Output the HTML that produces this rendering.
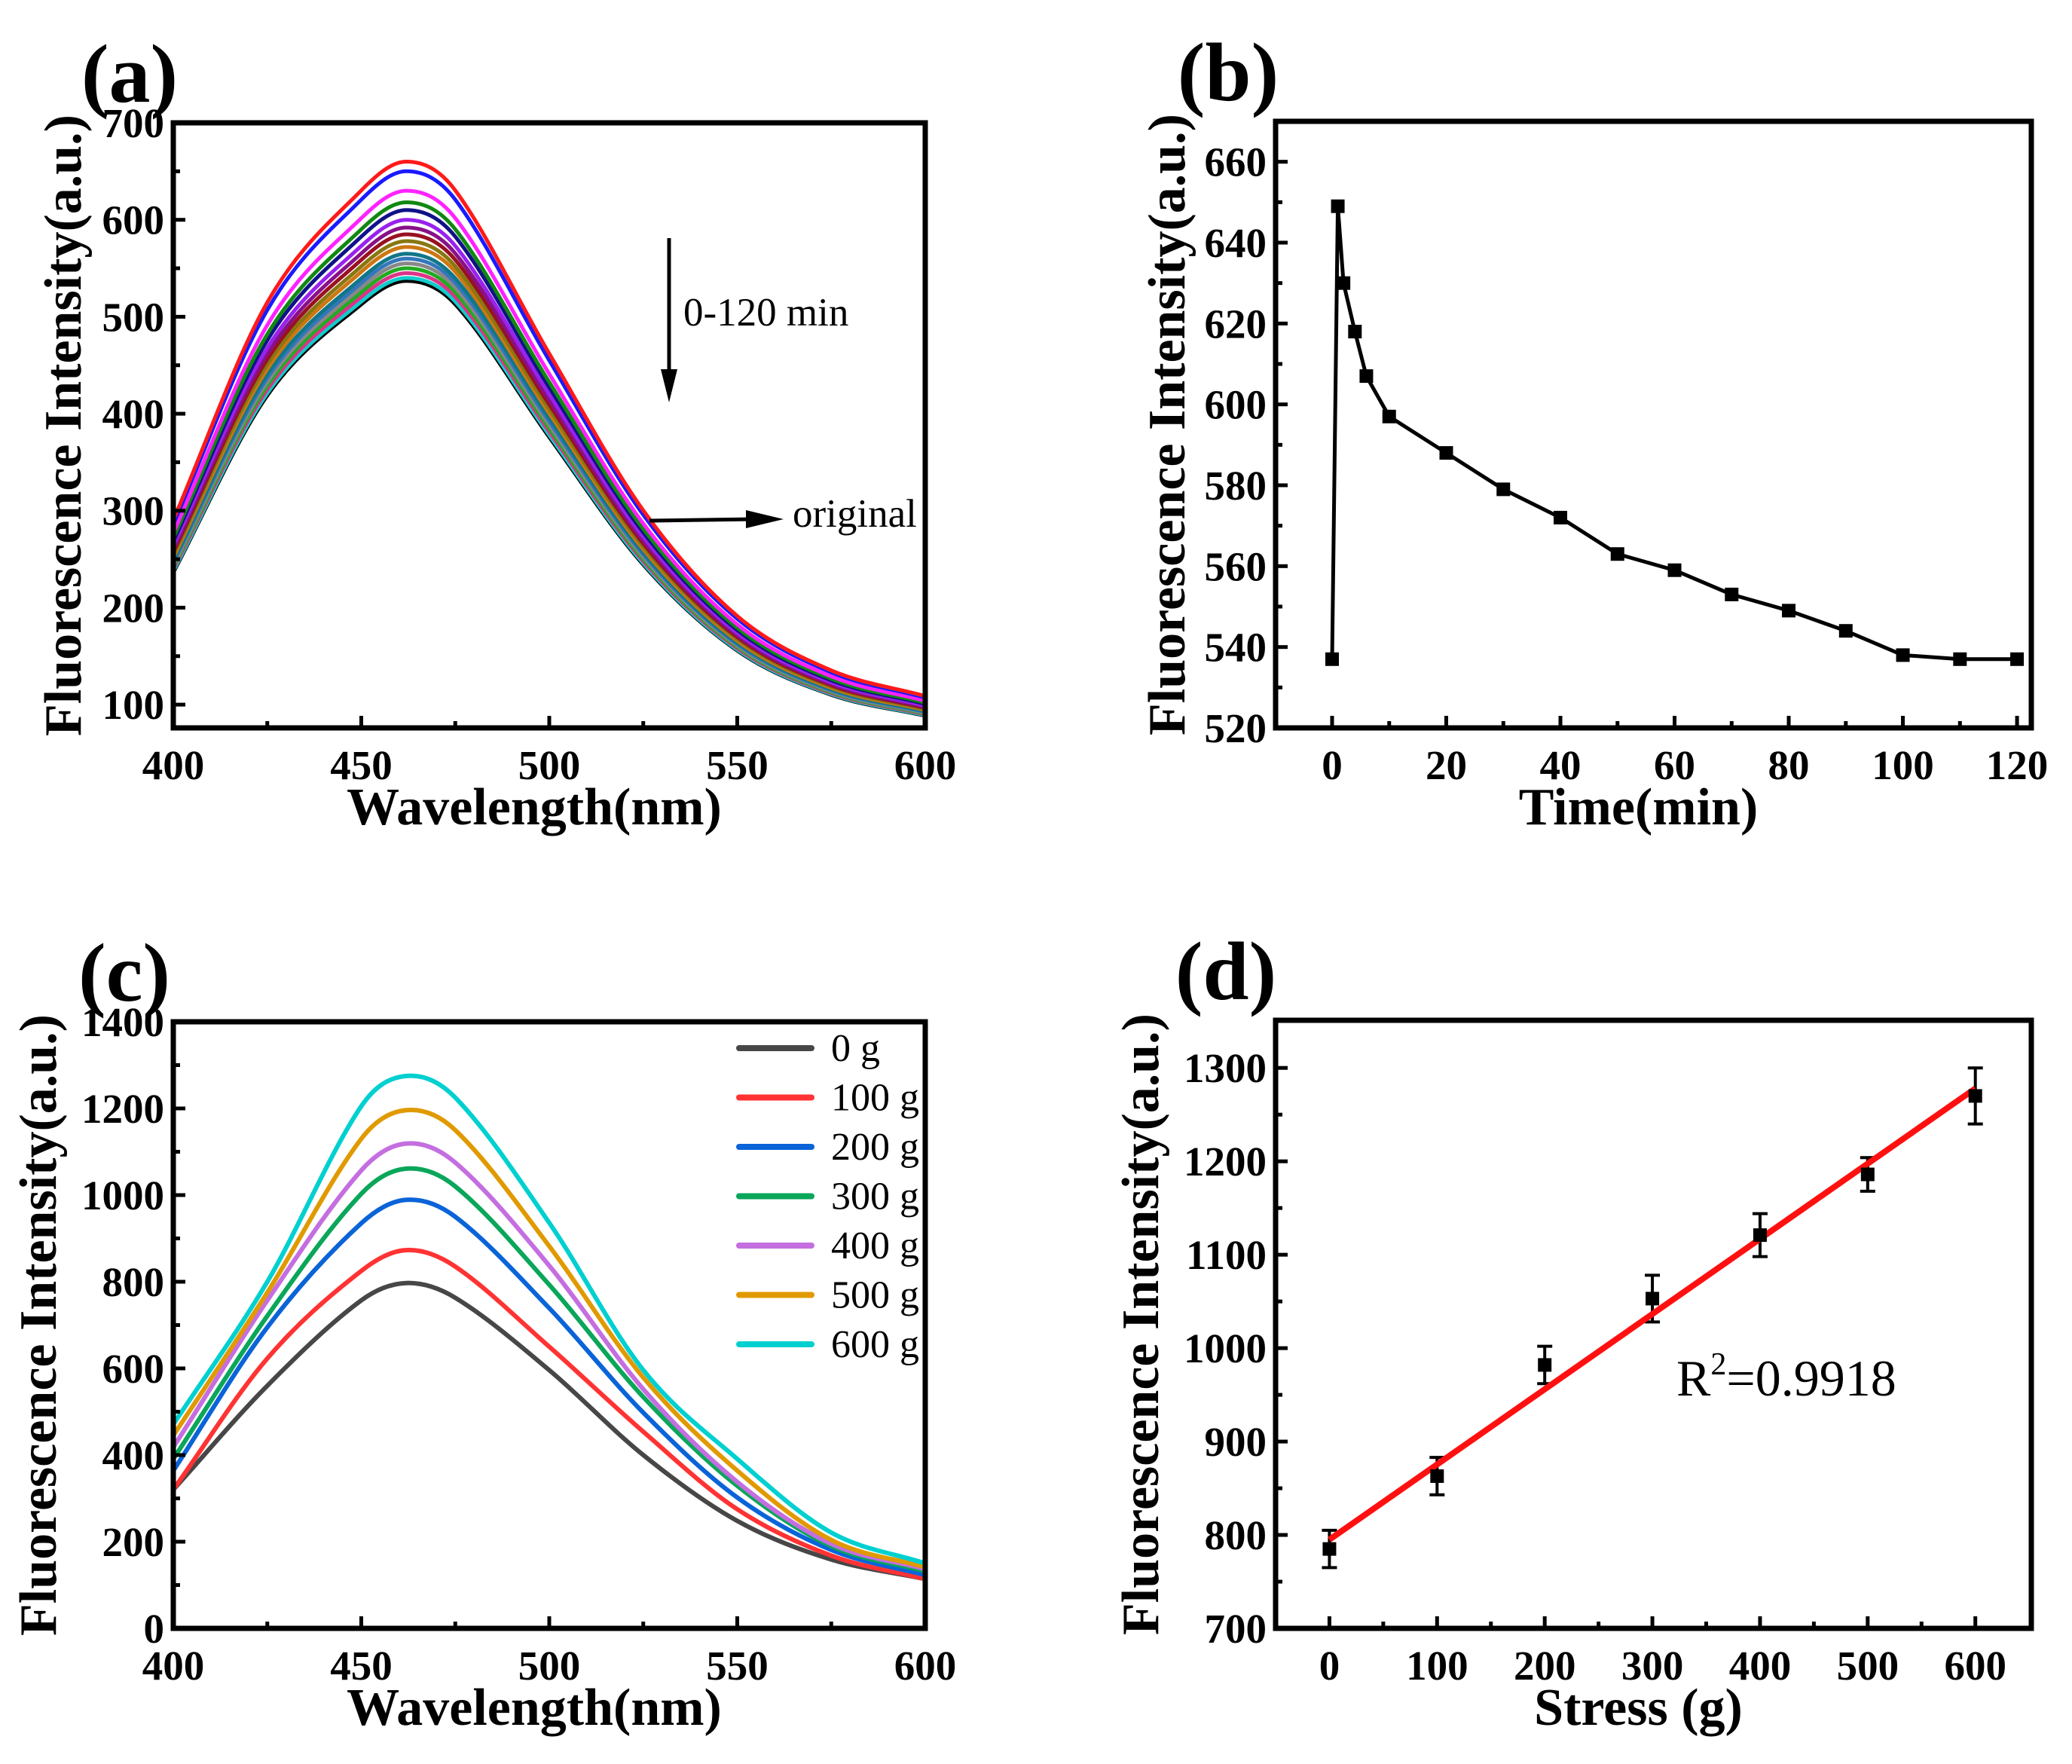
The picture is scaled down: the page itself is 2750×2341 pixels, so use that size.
<!DOCTYPE html>
<html><head><meta charset="utf-8"><style>
html,body{margin:0;padding:0;background:#fff}
svg{display:block}
text{font-family:"Liberation Serif",serif}
</style></head><body>
<svg id="fig" width="2750" height="2341" viewBox="0 0 2750 2341" xmlns="http://www.w3.org/2000/svg"></svg>
<script>
// ---- Panel (a) data ----
const aWavelengths=[400,425,450,462,475,500,525,550,575,600];
const aProfile=[0.44,0.78,0.955,1.0,0.955,0.70,0.455,0.29,0.205,0.165];
const aPeaks=[660,650,630,618,610,600,592,585,578,572,565,560,555,550,545,540,537];
const aColors=['#ff1a1a','#1a1aff','#ff22ff','#118811','#111188','#9922ee','#881188','#991122','#887711','#cc7711','#117788','#3377bb','#888888','#22aa22','#dd3388','#11cccc','#000000'];
// ---- Panel (b) data ----
const bTimes=[0,1,2,4,6,10,20,30,40,50,60,70,80,90,100,110,120];
const bValues=[537,649,630,618,607,597,588,579,572,563,559,553,549,544,538,537,537];
// ---- Panel (c) data ----
const cWavelengths=[400,425,450,462,475,500,525,550,575,600];
const cLabels=['0 g','100 g','200 g','300 g','400 g','500 g','600 g'];
const cColors=['#474747','#ff3333','#0a64d8','#0aa65a','#c46ee0','#e09a00','#00d0d0'];
const c0=[320,560,757,797,763,596,400,248,159,114];
const c100=[320,623,825,873,835,650,454,275,168,114];
const c200=[364,695,935,989,950,739,498,302,181,123];
const c300=[391,721,1003,1061,1020,793,534,329,190,132];
const c400=[418,757,1057,1119,1075,837,552,338,195,137];
const c500=[445,775,1130,1196,1150,882,579,364,204,141];
const c600=[471,800,1205,1275,1225,936,596,391,221,150];
const cSeries=[c0,c100,c200,c300,c400,c500,c600];
// ---- Panel (d) data ----
const dStress=[0,100,200,300,400,500,600];
const dValues=[785,863,982,1053,1121,1186,1270];
const dErrors=[20,20,20,25,23,18,30];
const dFit=[795,1278];

const NS='http://www.w3.org/2000/svg';
const svg=document.getElementById('fig');
function mk(tag,attrs,parent,txt){const e=document.createElementNS(NS,tag);for(const k in attrs)e.setAttribute(k,attrs[k]);if(txt!==undefined)e.textContent=txt;(parent||svg).appendChild(e);return e;}
function scale(d0,d1,r0,r1){return v=>r0+(v-d0)*(r1-r0)/(d1-d0);}
function smooth(pts){
  const n=pts.length,m=[];
  for(let i=0;i<n;i++){const a=pts[Math.max(0,i-1)],b=pts[Math.min(n-1,i+1)];m.push((b[1]-a[1])/(b[0]-a[0]));}
  let d='M'+pts[0][0].toFixed(1)+','+pts[0][1].toFixed(1);
  for(let i=0;i<n-1;i++){const p1=pts[i],p2=pts[i+1],h=(p2[0]-p1[0])/3;
    d+='C'+(p1[0]+h).toFixed(1)+','+(p1[1]+h*m[i]).toFixed(1)+' '+(p2[0]-h).toFixed(1)+','+(p2[1]-h*m[i+1]).toFixed(1)+' '+p2[0].toFixed(1)+','+p2[1].toFixed(1);}
  return d;}

function panel(o){
  const g=mk('g',{});
  
  
  const X=scale(o.xd[0],o.xd[1],o.L,o.R),Y=scale(o.yd[0],o.yd[1],o.B,o.T);
  const clip=mk('clipPath',{id:o.name+'-clip'},g);mk('rect',{x:o.L,y:o.T,width:o.R-o.L,height:o.B-o.T},clip);
  const plot=mk('g',{'clip-path':'url(#'+o.name+'-clip)'},g);
  
  
  o.xt.forEach(v=>{const x=X(v);mk('line',{x1:x,x2:x,y1:o.B,y2:o.B-16,stroke:'#000','stroke-width':5},g);
    const t=mk('text',{x:x,y:o.B+68,'font-size':55,'font-weight':'bold','text-anchor':'middle'},g,String(v));
    });
  o.xm.forEach(v=>{const x=X(v);mk('line',{x1:x,x2:x,y1:o.B,y2:o.B-9,stroke:'#000','stroke-width':5},g);});
  o.yt.forEach(v=>{const y=Y(v);mk('line',{x1:o.L,x2:o.L+16,y1:y,y2:y,stroke:'#000','stroke-width':5},g);
    const t=mk('text',{x:o.L-12,y:y+19,'font-size':55,'font-weight':'bold','text-anchor':'end'},g,String(v));
    });
  o.ym.forEach(v=>{const y=Y(v);mk('line',{x1:o.L,x2:o.L+9,y1:y,y2:y,stroke:'#000','stroke-width':5},g);});
  const xt=mk('text',{x:(o.L+o.R)/2-20,y:o.B+128,'font-size':70,'font-weight':'bold','text-anchor':'middle'},g,o.xtitle);
  
  const yt=mk('text',{x:0,y:0,'font-size':70,'font-weight':'bold','text-anchor':'middle',transform:'translate('+(o.ytx-8)+','+((o.T+o.B)/2)+') rotate(-90)'},g,o.ytitle);
  
  const pl=mk('text',{x:o.plx,y:o.T-28,'font-size':110,'font-weight':'bold','text-anchor':'middle'},g,o.label);
  
  return {g,plot,X,Y,frame:()=>{const f=mk('rect',{x:o.L,y:o.T,width:o.R-o.L,height:o.B-o.T,fill:'none',stroke:'#000','stroke-width':7},g);}};
}

// Panel a
(function(){
  const p=panel({name:'panel-a',L:230,R:1228,T:163,B:966,xd:[400,600],yd:[76,700],xt:[400,450,500,550,600],xm:[425,475,525,575],yt:[100,200,300,400,500,600,700],ym:[150,250,350,450,550,650],xtitle:'Wavelength(nm)',ytitle:'Fluorescence Intensity(a.u.)',ytx:115,plx:172,label:'(a)'});
  for(let i=aPeaks.length-1;i>=0;i--){
    const pts=aWavelengths.map((w,j)=>[p.X(w),p.Y(aPeaks[i]*aProfile[j])]);
    const e=mk('path',{d:smooth(pts),fill:'none',stroke:aColors[i],'stroke-width':5},p.plot);
    
  }
  p.frame();
  const ar=mk('g',{},p.g);
  mk('line',{x1:888,x2:888,y1:316,y2:500,stroke:'#000','stroke-width':5},ar);
  mk('polygon',{points:'877,490 899,490 888,534',fill:'#000'},ar);
  const t1=mk('text',{x:907,y:432,'font-size':53},p.g,'0-120 min');
  const ar2=mk('g',{},p.g);
  mk('line',{x1:862,x2:1000,y1:691,y2:689,stroke:'#000','stroke-width':5},ar2);
  mk('polygon',{points:'990,677 990,701 1040,689',fill:'#000'},ar2);
  const t2=mk('text',{x:1052,y:699,'font-size':53},p.g,'original');
})();

// Panel b
(function(){
  const p=panel({name:'panel-b',L:1693,R:2696,T:161,B:966,xd:[-9.9,122.5],yd:[520,670],xt:[0,20,40,60,80,100,120],xm:[10,30,50,70,90,110],yt:[520,540,560,580,600,620,640,660],ym:[530,550,570,590,610,630,650],xtitle:'Time(min)',ytitle:'Fluorescence Intensity(a.u.)',ytx:1580,plx:1630,label:'(b)'});
  const pts=bTimes.map((t,i)=>[p.X(t),p.Y(bValues[i])]);
  const l=mk('polyline',{points:pts.map(q=>q.join(',')).join(' '),fill:'none',stroke:'#000','stroke-width':5},p.plot);
  
  pts.forEach(q=>{const r=mk('rect',{x:q[0]-9,y:q[1]-9,width:18,height:18,fill:'#000'},p.plot);});
  p.frame();
})();

// Panel c
(function(){
  const p=panel({name:'panel-c',L:230,R:1228,T:1356,B:2161,xd:[400,600],yd:[0,1400],xt:[400,450,500,550,600],xm:[425,475,525,575],yt:[0,200,400,600,800,1000,1200,1400],ym:[100,300,500,700,900,1100,1300],xtitle:'Wavelength(nm)',ytitle:'Fluorescence Intensity(a.u.)',ytx:82,plx:165,label:'(c)'});
  cSeries.forEach((s,i)=>{
    const pts=cWavelengths.map((w,j)=>[p.X(w),p.Y(s[j])]);
    const e=mk('path',{d:smooth(pts),fill:'none',stroke:cColors[i],'stroke-width':6},p.plot);
    
  });
  const lg=mk('g',{},p.g);
  cLabels.forEach((lab,i)=>{
    const y=1391+i*65.5;
    const en=mk('g',{},lg);
    mk('line',{x1:981,x2:1077,y1:y,y2:y,stroke:cColors[i],'stroke-width':8,'stroke-linecap':'round'},en);
    mk('text',{x:1103,y:y+17,'font-size':52},en,lab);
  });
  p.frame();
})();

// Panel d
(function(){
  const p=panel({name:'panel-d',L:1693,R:2696,T:1354,B:2161,xd:[-50,652],yd:[700,1351],xt:[0,100,200,300,400,500,600],xm:[50,150,250,350,450,550],yt:[700,800,900,1000,1100,1200,1300],ym:[750,850,950,1050,1150,1250],xtitle:'Stress (g)',ytitle:'Fluorescence Intensity(a.u.)',ytx:1545,plx:1627,label:'(d)'});
  dStress.forEach((s,i)=>{
    const x=p.X(s),y0=p.Y(dValues[i]-dErrors[i]),y1=p.Y(dValues[i]+dErrors[i]);
    const eb=mk('g',{},p.plot);
    mk('line',{x1:x,x2:x,y1:y0,y2:y1,stroke:'#000','stroke-width':4},eb);
    mk('line',{x1:x-10,x2:x+10,y1:y0,y2:y0,stroke:'#000','stroke-width':4},eb);
    mk('line',{x1:x-10,x2:x+10,y1:y1,y2:y1,stroke:'#000','stroke-width':4},eb);
  });
  const fl=mk('line',{x1:p.X(dStress[0]),y1:p.Y(dFit[0]),x2:p.X(dStress[dStress.length-1]),y2:p.Y(dFit[1]),stroke:'#ff1010','stroke-width':8},p.plot);
  
  dStress.forEach((s,i)=>{const r=mk('rect',{x:p.X(s)-9,y:p.Y(dValues[i])-9,width:18,height:18,fill:'#000'},p.plot);});
  const t=mk('text',{x:2225,y:1852,'font-size':68},p.g);
  mk('tspan',{},t,'R');mk('tspan',{dy:-28,'font-size':42},t,'2');mk('tspan',{dy:28},t,'=0.9918');
  p.frame();
})();
</script>
</body></html>
